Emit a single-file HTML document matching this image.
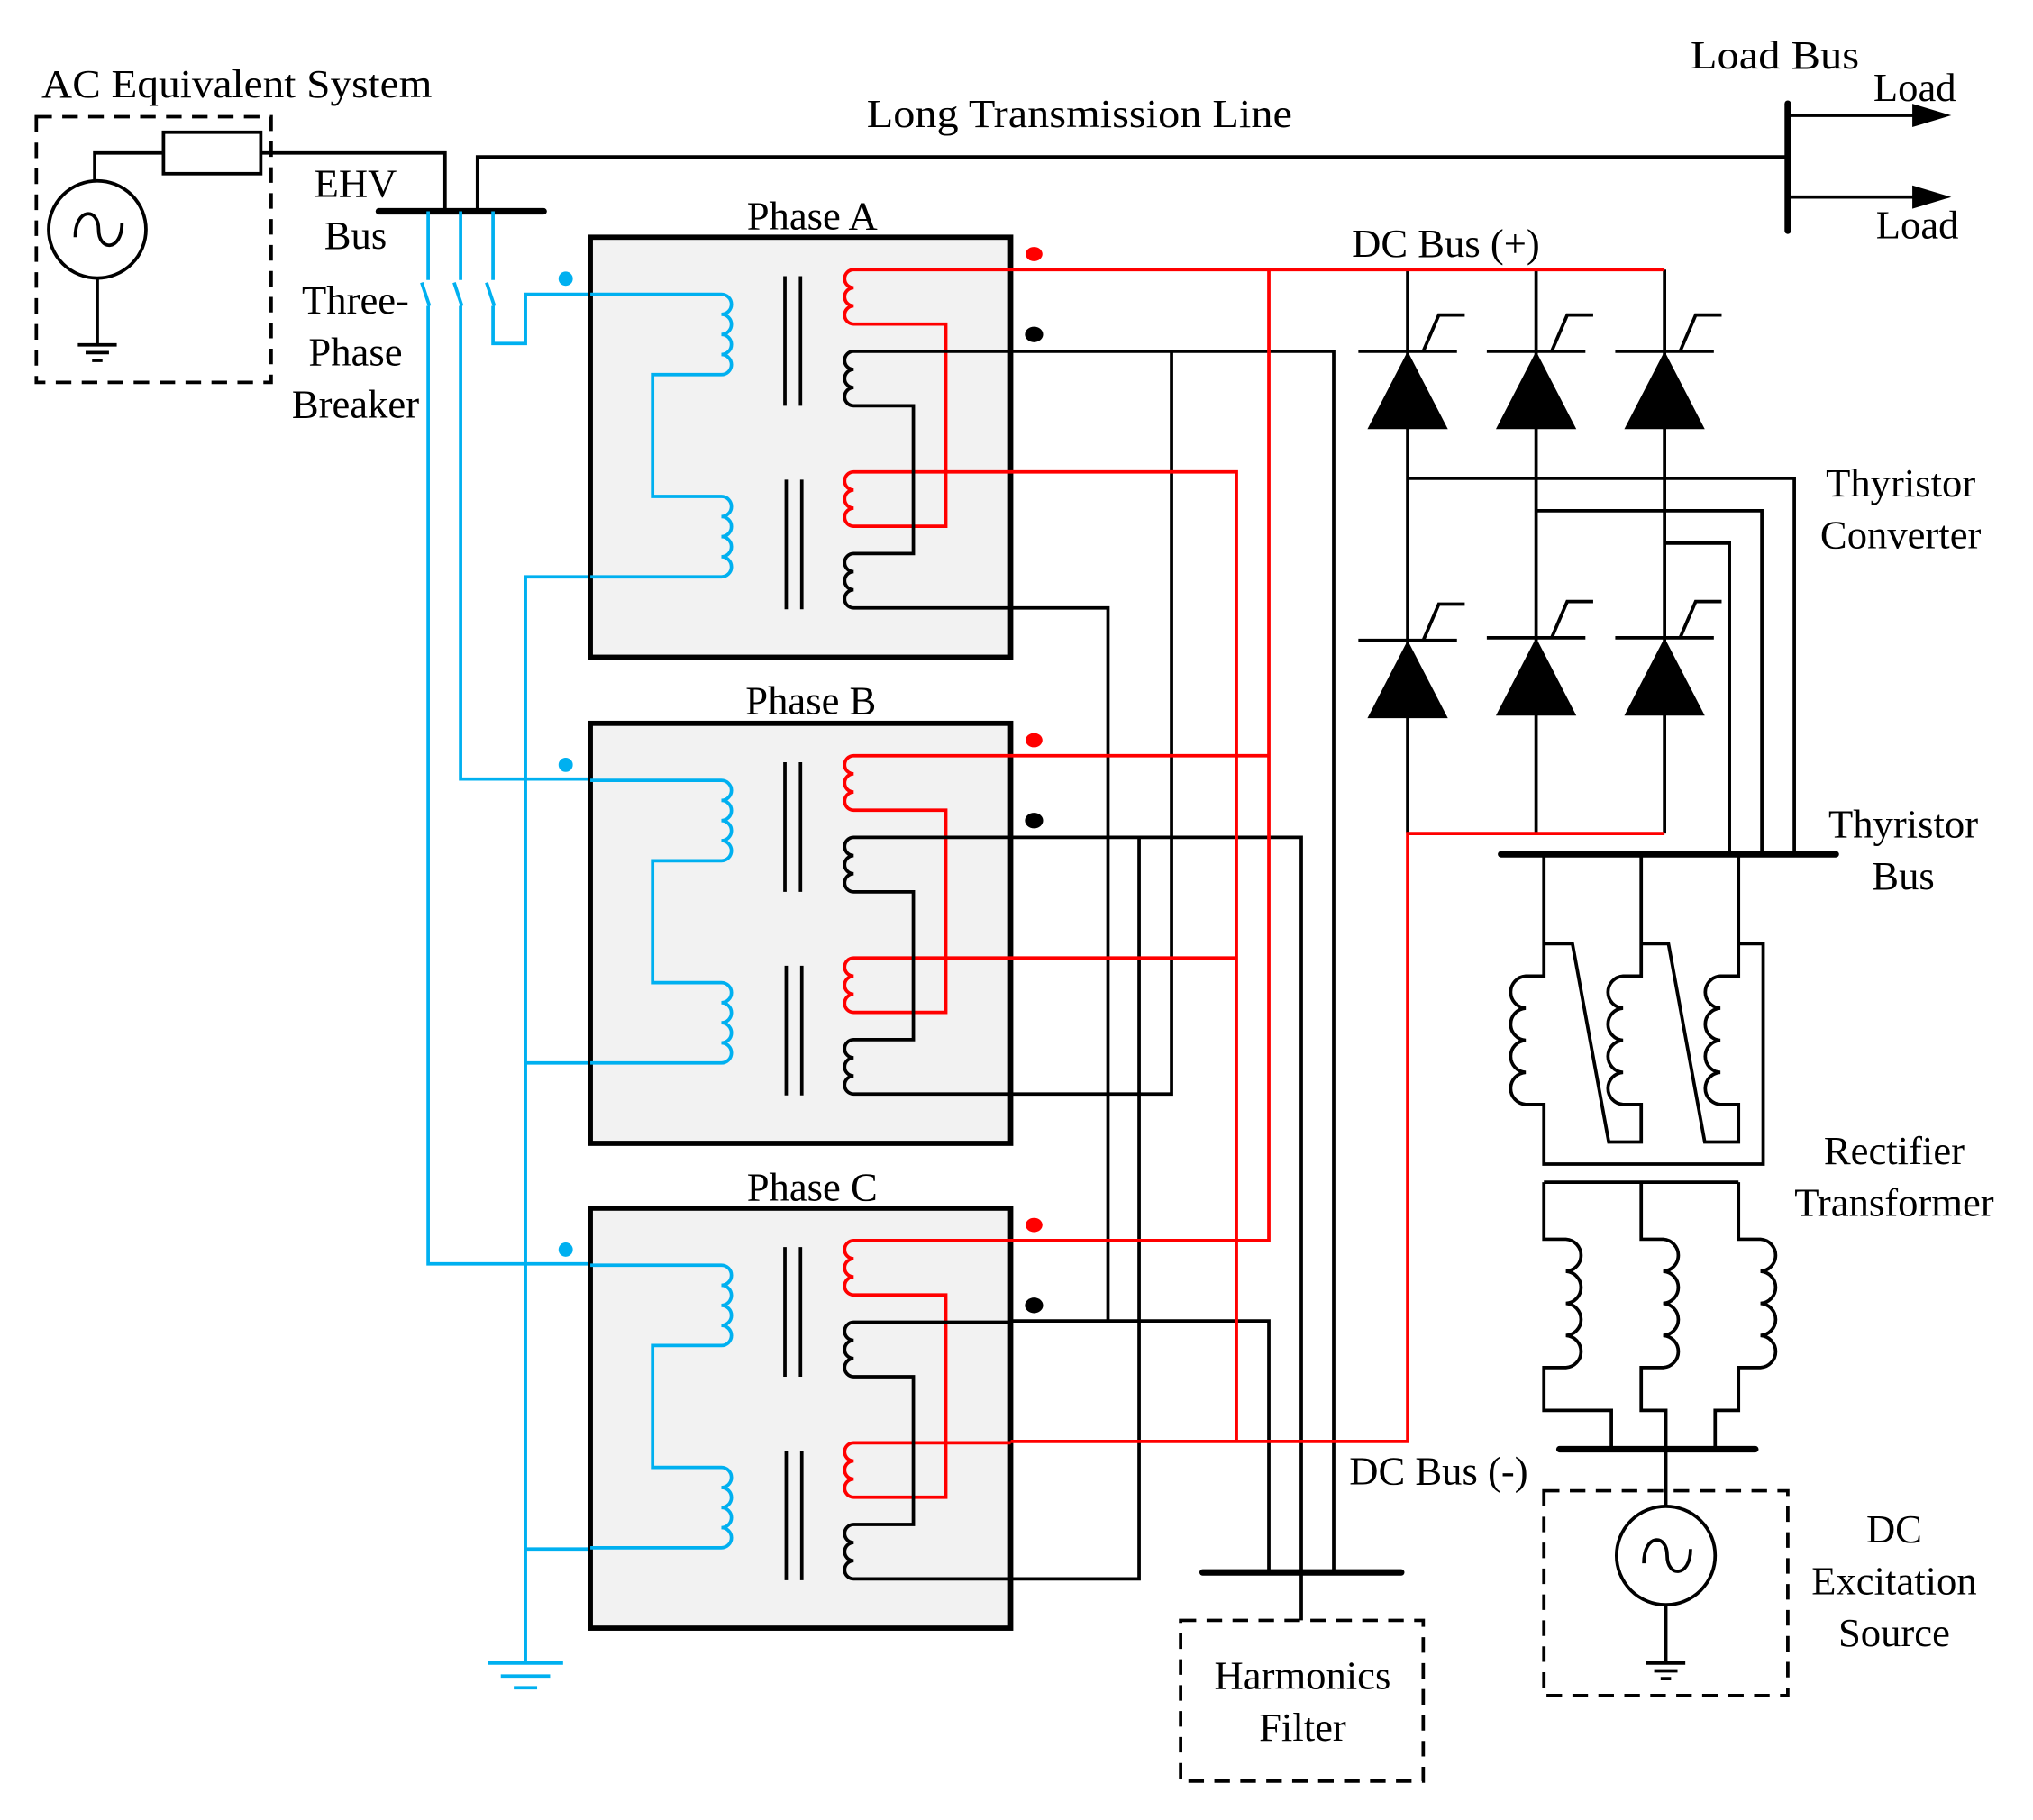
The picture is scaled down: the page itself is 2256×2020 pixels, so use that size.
<!DOCTYPE html>
<html><head><meta charset="utf-8"><style>
html,body{margin:0;padding:0;background:#fff;}
svg{display:block;}
text{font-family:"Liberation Serif",serif;font-size:31px;fill:#000;}
</style></head><body>
<svg width="2256" height="2020" viewBox="0 0 1567 1404" preserveAspectRatio="none" xmlns="http://www.w3.org/2000/svg">
<defs>
<g id="phase">
<rect x="455" y="183" width="324" height="324" fill="#f2f2f2" stroke="#000" stroke-width="4"/>
<g fill="none" stroke-width="2.6">
<path stroke="#00b0f0" d="M455 227 L556 227 a7.75 7.75 0 0 1 0 15.5 a7.75 7.75 0 0 1 0 15.5 a7.75 7.75 0 0 1 0 15.5 a7.75 7.75 0 0 1 0 15.5 L503 289 L503 383 L556 383 a7.75 7.75 0 0 1 0 15.5 a7.75 7.75 0 0 1 0 15.5 a7.75 7.75 0 0 1 0 15.5 a7.75 7.75 0 0 1 0 15.5 L455 445"/>
<path stroke="#f00" d="M779 208 L658 208 a7 7 0 0 0 0 14 a7 7 0 0 0 0 14 a7 7 0 0 0 0 14 L729 250 L729 406 L658 406 a7 7 0 0 1 0 -14 a7 7 0 0 1 0 -14 a7 7 0 0 1 0 -14 L779 364"/>
<path stroke="#000" d="M779 271 L658 271 a7 7 0 0 0 0 14 a7 7 0 0 0 0 14 a7 7 0 0 0 0 14 L704 313 L704 427 L658 427 a7 7 0 0 0 0 14 a7 7 0 0 0 0 14 a7 7 0 0 0 0 14 L779 469"/>
<path stroke="#000" d="M605 213 V313 M617 213 V313 M606 370 V470 M618 370 V470"/>
</g>
<ellipse cx="797" cy="196" rx="6.5" ry="5.5" fill="#f00"/>
<ellipse cx="797" cy="258" rx="7" ry="6" fill="#000"/>
<ellipse cx="436" cy="215" rx="5.5" ry="5.5" fill="#00b0f0"/>
</g>
<g id="thy">
<polygon points="0,0 -31,60 31,60" fill="#000"/>
<path d="M-38 0 H38 M12 0 L24 -28 H44" stroke="#000" stroke-width="2.6" fill="none"/>
</g>
</defs>

<text x="32" y="75" textLength="301" lengthAdjust="spacingAndGlyphs">AC Equivalent System</text>
<rect x="28" y="90" width="181" height="205" fill="none" stroke="#000" stroke-width="2.6" stroke-dasharray="12 8"/>
<circle cx="75" cy="177" r="37.5" fill="none" stroke="#000" stroke-width="2.6"/>
<path d="M58 183 C58 160 76 160 76 177 C76 194 94 194 94 172" fill="none" stroke="#000" stroke-width="2.6"/>
<g stroke="#000" stroke-width="2.6" fill="none">
<path d="M73 139 V118 H126 M201 118 H343 V163"/>
<rect x="126" y="102" width="75" height="32"/>
<path d="M75 214 V266 M60 266 H90 M66 272 H84 M71 278 H79"/>
<path d="M368 163 V121 H1378"/>
<path d="M1378 89 H1480 M1378 152 H1480"/>
</g>
<path d="M292 163 H419" stroke="#000" stroke-width="5" stroke-linecap="round"/>
<path d="M1378 80 V178" stroke="#000" stroke-width="5" stroke-linecap="round"/>
<polygon points="1474,80 1504,89 1474,98" fill="#000"/>
<polygon points="1474,143 1504,152 1474,161" fill="#000"/>
<text x="668" y="98" textLength="328" lengthAdjust="spacingAndGlyphs">Long Transmission Line</text>
<text x="1303" y="53" textLength="130" lengthAdjust="spacingAndGlyphs">Load Bus</text>
<text x="1444" y="78">Load</text>
<text x="1446" y="184">Load</text>
<g text-anchor="middle">
<text x="274" y="152">EHV</text>
<text x="274" y="192">Bus</text>
<text x="274" y="242">Three-</text>
<text x="274" y="282">Phase</text>
<text x="274" y="322">Breaker</text>
<text x="626" y="177">Phase A</text>
<text x="625" y="551">Phase B</text>
<text x="626" y="926">Phase C</text>
<text x="1465" y="383">Thyristor</text>
<text x="1465" y="423">Converter</text>
<text x="1467" y="646">Thyristor</text>
<text x="1467" y="686">Bus</text>
<text x="1460" y="898">Rectifier</text>
<text x="1460" y="938">Transformer</text>
<text x="1460" y="1190">DC</text>
<text x="1460" y="1230">Excitation</text>
<text x="1460" y="1270">Source</text>
<text x="1004" y="1303">Harmonics</text>
<text x="1004" y="1343">Filter</text>
</g>
<text x="1042" y="198">DC Bus (+)</text>
<text x="1040" y="1145">DC Bus (-)</text>

<g stroke="#00b0f0" stroke-width="2.6" fill="none">
<path d="M330 163 V216 M325 218 L331 236 M330 236 V975 H455"/>
<path d="M355 163 V216 M350 218 L356 236 M355 236 V601 H455"/>
<path d="M380 163 V216 M375 218 L381 236 M380 236 V265 H405 V227 H455"/>
<path d="M405 1283 V445 H455 M405 820 H455 M405 1195 H455"/>
<path d="M376 1283 H434 M386 1293 H424 M396 1302 H414"/>
</g>

<use href="#phase"/>
<use href="#phase" transform="translate(0,375)"/>
<use href="#phase" transform="translate(0,749)"/>

<g stroke="#000" stroke-width="2.6" fill="none">
<path d="M779 271 H1028 V1213 M903 271 V844 H779"/>
<path d="M779 469 H854 V1019"/>
<path d="M779 646 H1003 V1250 M878 646 V1218 H779"/>
<path d="M779 1019 H978 V1213"/>
<path d="M1085 208 V643 M1184 208 V643 M1283 208 V643"/>
<path d="M1085 369 H1383 V659 M1184 394 H1358 V659 M1283 419 H1333 V659"/>
</g>
<g stroke="#f00" stroke-width="2.6" fill="none">
<path d="M779 208 H1283 M978 208 V957 H779 M779 583 H978"/>
<path d="M779 364 H953 V1112 M779 739 H953 M779 1112 H1085 V643 H1283"/>
</g>
<path d="M927 1213 H1080" stroke="#000" stroke-width="5" stroke-linecap="round"/>
<rect x="910" y="1250" width="187" height="124" fill="none" stroke="#000" stroke-width="2.6" stroke-dasharray="12 8"/>

<use href="#thy" transform="translate(1085,271)"/>
<use href="#thy" transform="translate(1184,271)"/>
<use href="#thy" transform="translate(1283,271)"/>
<use href="#thy" transform="translate(1085,494)"/>
<use href="#thy" transform="translate(1184,492)"/>
<use href="#thy" transform="translate(1283,492)"/>
<path d="M1157 659 H1415" stroke="#000" stroke-width="5" stroke-linecap="round"/>

<g stroke="#000" stroke-width="2.6" fill="none">
<path d="M1190 659 V753 H1176 a12.4 12.4 0 0 0 0 24.75 a12.4 12.4 0 0 0 0 24.75 a12.4 12.4 0 0 0 0 24.75 a12.4 12.4 0 0 0 0 24.75 H1190 V898 H1359 V728 H1340"/>
<path d="M1265 659 V753 H1251 a12.4 12.4 0 0 0 0 24.75 a12.4 12.4 0 0 0 0 24.75 a12.4 12.4 0 0 0 0 24.75 a12.4 12.4 0 0 0 0 24.75 H1265 V881 H1240 L1212 728 H1190"/>
<path d="M1340 659 V753 H1326 a12.4 12.4 0 0 0 0 24.75 a12.4 12.4 0 0 0 0 24.75 a12.4 12.4 0 0 0 0 24.75 a12.4 12.4 0 0 0 0 24.75 H1340 V881 H1314 L1286 728 H1265"/>
<path d="M1190 912 H1340 M1190 912 V956 H1207 a12.4 12.4 0 0 1 0 24.75 a12.4 12.4 0 0 1 0 24.75 a12.4 12.4 0 0 1 0 24.75 a12.4 12.4 0 0 1 0 24.75 H1190 V1088 H1242 V1118"/>
<path d="M1265 912 V956 H1282 a12.4 12.4 0 0 1 0 24.75 a12.4 12.4 0 0 1 0 24.75 a12.4 12.4 0 0 1 0 24.75 a12.4 12.4 0 0 1 0 24.75 H1265 V1088 H1284 V1162"/>
<path d="M1340 912 V956 H1357 a12.4 12.4 0 0 1 0 24.75 a12.4 12.4 0 0 1 0 24.75 a12.4 12.4 0 0 1 0 24.75 a12.4 12.4 0 0 1 0 24.75 H1340 V1088 H1322 V1118"/>
<circle cx="1284" cy="1200" r="38"/>
<path d="M1267 1206 C1267 1183 1285 1183 1285 1200 C1285 1217 1303 1217 1303 1195"/>
<path d="M1284 1238 V1283 M1269 1283 H1299 M1275 1289 H1293 M1280 1295 H1288"/>
</g>
<path d="M1202 1118 H1353" stroke="#000" stroke-width="5" stroke-linecap="round"/>
<rect x="1190" y="1150" width="188" height="158" fill="none" stroke="#000" stroke-width="2.6" stroke-dasharray="12 8"/>
</svg>
</body></html>
